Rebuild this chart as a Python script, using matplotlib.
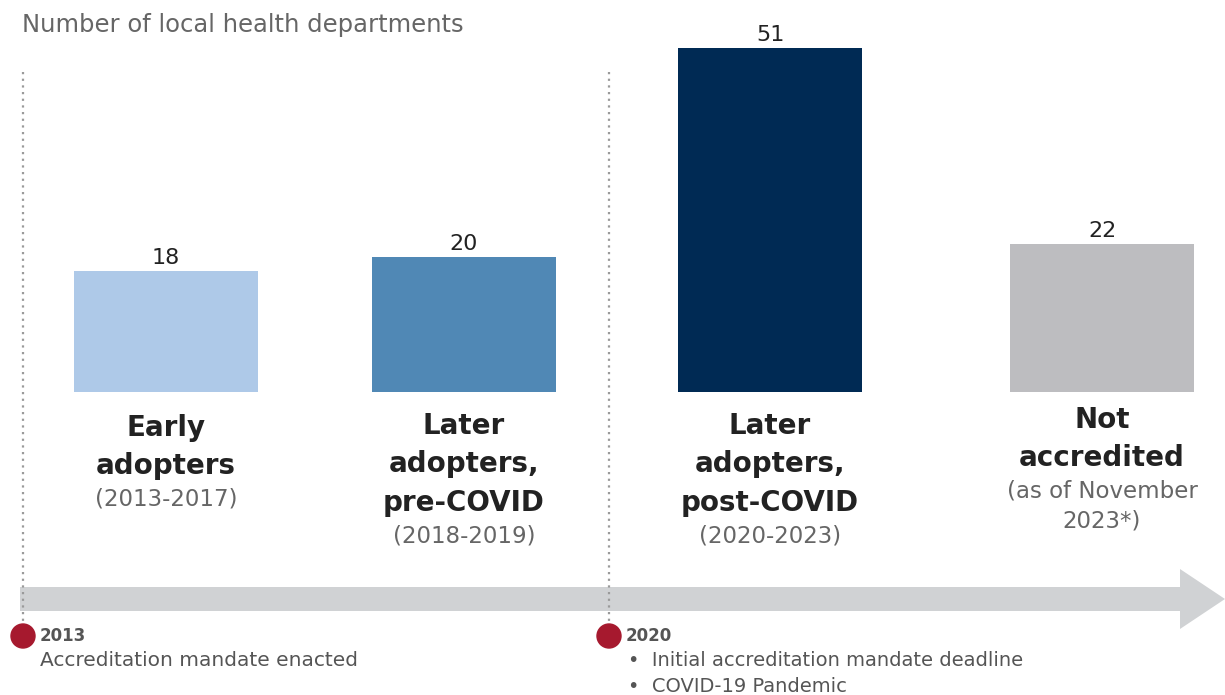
import matplotlib
matplotlib.use("Agg")
import matplotlib.pyplot as plt
import matplotlib.patches as mpatches

# ---- data ----
categories = ["Early adopters", "Later adopters, pre-COVID", "Later adopters, post-COVID", "Not accredited"]
values = [18, 20, 51, 22]
bold_labels = ["Early\nadopters", "Later\nadopters,\npre-COVID", "Later\nadopters,\npost-COVID", "Not\naccredited"]
sub_labels = ["(2013-2017)", "(2018-2019)", "(2020-2023)", "(as of November\n2023*)"]
bar_colors = ["#AEC9E8", "#5088B5", "#002A54", "#BDBDC0"]
title = "Number of local health departments"
milestones = [("2013", ["Accreditation mandate enacted"], False),
              ("2020", ["Initial accreditation mandate deadline", "COVID-19 Pandemic"], True)]

# ---- layout ----
W, H = 1225, 695
fig = plt.figure(figsize=(W / 100, H / 100), dpi=100)
plt.rcParams['font.family'] = ['DejaVu Sans']

base_px = 392
px_per_unit = 6.74
bar_centers = [166, 464, 770, 1102]
bar_width = 184

axb = fig.add_axes([0, (H - base_px) / H, 1, base_px / H])
axb.set_xlim(0, W)
axb.set_ylim(0, base_px / px_per_unit)
axb.axis("off")
bars = axb.bar(bar_centers, values, width=bar_width, color=bar_colors)
axb.bar_label(bars, labels=[str(v) for v in values], padding=2, fontsize=16, color="#222222")

ov = fig.add_axes([0, 0, 1, 1], zorder=3)
ov.set_xlim(0, W)
ov.set_ylim(H, 0)
ov.axis("off")

# title
ov.text(22, 25, title, fontsize=17.5, color="#666666", va="center", ha="left")

# arrow
arrow = mpatches.FancyArrow(20, 599, W - 20, 0, width=24, head_width=60, head_length=45,
                            length_includes_head=True, color="#D0D2D4", lw=0)
ov.add_patch(arrow)

# dotted lines and milestones
ms_x = [23, 609]
for x, (yr, items, bullets) in zip(ms_x, milestones):
    ov.plot([x, x], [72, 626], color="#9A9A9A", lw=1.6, linestyle=(0, (1, 2)))
    ov.add_patch(mpatches.Circle((x, 636), 12, color="#A6192E", zorder=5))
    ov.text(x + 17, 636, yr, fontsize=12, fontweight="bold", color="#555555", va="center", ha="left")
    for i, it in enumerate(items):
        txt = ("\u2022  " + it) if bullets else it
        ov.text(x + (19 if bullets else 17), 661 + 25 * i, txt,
                fontsize=(14 if bullets else 14.5), color="#555555", va="center", ha="left")

# category labels
bold_tops = [428, 426, 426, 420]
line_h = 38.5
for cx, bl, sl, top in zip(bar_centers, bold_labels, sub_labels, bold_tops):
    lines = bl.split("\n")
    for i, ln in enumerate(lines):
        ov.text(cx, top + line_h * i, ln, fontsize=20, fontweight="bold", color="#222222",
                ha="center", va="center")
    ys = top + line_h * (len(lines) - 1) + 33
    for j, s in enumerate(sl.split("\n")):
        ov.text(cx, ys + 30 * j, s, fontsize=16.5, color="#666666", ha="center", va="center")

fig.savefig("out.png", dpi=100)
